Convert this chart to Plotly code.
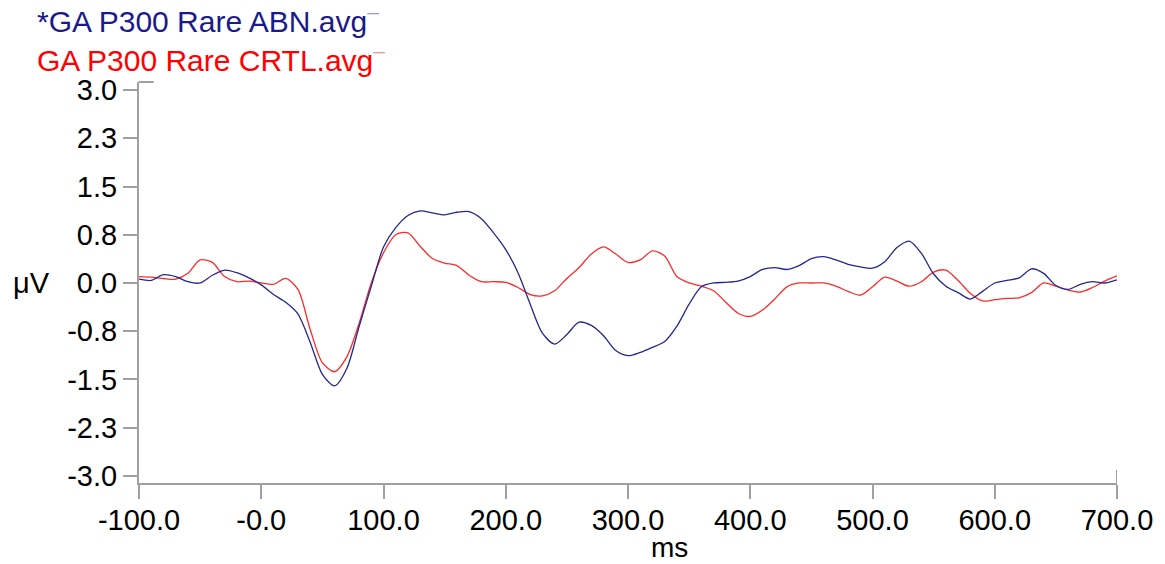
import plotly.graph_objects as go

time_ms = list(range(-100, 701, 10))

abn_uv = [0.06, 0.04, 0.13, 0.10, 0.02, 0.00, 0.12, 0.20, 0.16, 0.08,
          -0.03, -0.18, -0.30, -0.48, -0.92, -1.42, -1.60, -1.33, -0.68, -0.05,
          0.56, 0.86, 1.05, 1.12, 1.09, 1.06, 1.10, 1.11, 1.00, 0.78,
          0.52, 0.16, -0.33, -0.78, -0.95, -0.80, -0.61, -0.66, -0.82, -1.05,
          -1.13, -1.08, -1.00, -0.91, -0.67, -0.33, -0.06, 0.00, 0.01, 0.03,
          0.10, 0.21, 0.24, 0.21, 0.27, 0.38, 0.41, 0.36, 0.29, 0.25,
          0.23, 0.33, 0.55, 0.65, 0.46, 0.14, -0.05, -0.15, -0.25, -0.13,
          0.00, 0.04, 0.08, 0.22, 0.15, -0.04, -0.10, -0.02, 0.02, 0.00,
          0.05]

crtl_uv = [0.10, 0.09, 0.07, 0.06, 0.15, 0.36, 0.32, 0.10, 0.02, 0.03,
           0.00, -0.02, 0.07, -0.10, -0.72, -1.24, -1.38, -1.15, -0.63, 0.00,
           0.47, 0.75, 0.78, 0.57, 0.38, 0.31, 0.27, 0.12, 0.02, 0.02,
           0.01, -0.07, -0.18, -0.20, -0.12, 0.07, 0.24, 0.45, 0.56, 0.45,
           0.32, 0.36, 0.50, 0.42, 0.10, 0.00, -0.05, -0.12, -0.30, -0.47,
           -0.52, -0.42, -0.25, -0.06, 0.00, 0.00, 0.00, -0.05, -0.13, -0.19,
           -0.06, 0.09, 0.03, -0.05, 0.02, 0.17, 0.20, 0.04, -0.16, -0.28,
           -0.26, -0.24, -0.23, -0.15, 0.00, -0.05, -0.11, -0.14, -0.07, 0.03,
           0.11]

x_ticks = [-100, 0, 100, 200, 300, 400, 500, 600, 700]
x_labels = ["-100.0", "-0.0", "100.0", "200.0", "300.0", "400.0", "500.0", "600.0", "700.0"]
y_ticks = [-3.0, -2.25, -1.5, -0.75, 0.0, 0.75, 1.5, 2.25, 3.0]
y_labels = ["-3.0", "-2.3", "-1.5", "-0.8", "0.0", "0.8", "1.5", "2.3", "3.0"]

series_names = ["*GA P300 Rare ABN.avg", "GA P300 Rare CRTL.avg"]
FONT = "Arial, Liberation Sans, sans-serif"
FS = 29
TFS = 30
AX = "#a0a0a0"

fig = go.Figure()
fig.add_trace(go.Scatter(x=time_ms, y=crtl_uv, mode="lines", name=series_names[1],
                         line=dict(color="#ff2a2a", width=1.3, shape="spline", smoothing=0.8)))
fig.add_trace(go.Scatter(x=time_ms, y=abn_uv, mode="lines", name=series_names[0],
                         line=dict(color="#26268f", width=1.3, shape="spline", smoothing=0.8)))

fig.update_layout(
    width=1165, height=564,
    margin=dict(l=139, r=48, t=82, b=81),
    paper_bgcolor="white", plot_bgcolor="white",
    showlegend=False,
    font=dict(family=FONT, size=FS, color="black"),
    xaxis=dict(range=[-100, 700], tickvals=x_ticks, ticktext=x_labels,
               showgrid=False, zeroline=False, showline=True, linecolor=AX, linewidth=2,
               ticks="outside", ticklen=14, tickcolor=AX, tickwidth=2,
               ticklabelstandoff=-4,
               tickfont=dict(size=FS, color="black")),
    yaxis=dict(range=[-3.11, 3.125], tickvals=y_ticks, ticktext=y_labels,
               showgrid=False, zeroline=False, showline=True, linecolor=AX, linewidth=2,
               ticks="outside", ticklen=14, tickcolor=AX, tickwidth=2,
               tickfont=dict(size=FS, color="black")),
)

# axis decorations
fig.add_shape(type="line", xref="paper", yref="paper", x0=0, x1=0.015, y0=1, y1=1,
              line=dict(color=AX, width=2))
fig.add_shape(type="line", xref="x", yref="paper", x0=700, x1=700, y0=0, y1=0.033,
              line=dict(color=AX, width=2))

# legend-like labels
fig.add_annotation(xref="paper", yref="paper", x=(35 - 139) / 978, y=1 + (82 - 19) / 401,
                   xanchor="left", yanchor="middle", showarrow=False,
                   text=series_names[0] + "<span style='color:#9a9ad0'><sup>–</sup></span>",
                   font=dict(family=FONT, size=TFS, color="#1a1a8c"))
fig.add_annotation(xref="paper", yref="paper", x=(35 - 139) / 978, y=1 + (82 - 58) / 401,
                   xanchor="left", yanchor="middle", showarrow=False,
                   text=series_names[1] + "<span style='color:#ff9090'><sup>–</sup></span>",
                   font=dict(family=FONT, size=TFS, color="#ff0000"))

# axis titles
fig.add_annotation(xref="paper", yref="y", x=(31 - 139) / 978, y=0,
                   xanchor="center", yanchor="middle", showarrow=False,
                   text="μV", font=dict(family=FONT, size=FS, color="black"))
fig.add_annotation(xref="paper", yref="paper", x=(669 - 139) / 978, y=-81 / 401,
                   xanchor="center", yanchor="bottom", showarrow=False, borderpad=0,
                   text="ms", font=dict(family=FONT, size=28, color="black"))

fig.write_html("out.html")
